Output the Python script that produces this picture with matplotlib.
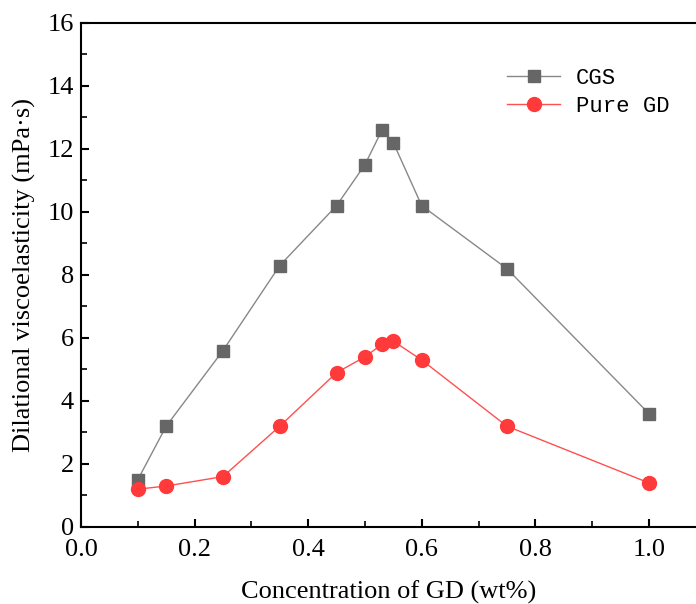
import numpy as np
import matplotlib.pyplot as plt
from matplotlib.ticker import MultipleLocator

# Concentration of GD (wt%)
conc = [0.10, 0.15, 0.25, 0.35, 0.45, 0.50, 0.53, 0.55, 0.60, 0.75, 1.00]
# dilational viscoelasticity (mPa·s)
cgs = [1.5, 3.2, 5.6, 8.3, 10.2, 11.5, 12.6, 12.2, 10.2, 8.2, 3.6]
pure_gd = [1.2, 1.3, 1.6, 3.2, 4.9, 5.4, 5.8, 5.9, 5.3, 3.2, 1.4]

plt.rcParams['font.family'] = 'Liberation Serif'

fig = plt.figure(figsize=(6.96, 6.04), dpi=100)
ax = fig.add_axes([0.1164, 0.1275, 0.8836, 0.8345])

ax.plot(conc, cgs, color='#888888', lw=1, marker='s', ms=9,
        mfc='#666666', mec='#666666', label='CGS')
ax.plot(conc, pure_gd, color='#ff5050', lw=1, marker='o', ms=10,
        mfc='#ff3a3a', mec='#ff3a3a', label='Pure GD')

ax.set_xlim(0, 1.083)
ax.set_ylim(0, 16)
ax.xaxis.set_major_locator(MultipleLocator(0.2))
ax.xaxis.set_minor_locator(MultipleLocator(0.1))
ax.yaxis.set_major_locator(MultipleLocator(2))
ax.yaxis.set_minor_locator(MultipleLocator(1))
ax.xaxis.set_major_formatter(plt.FormatStrFormatter('%.1f'))
ax.tick_params(which='both', direction='in', top=False, right=False, labelsize=19)
ax.tick_params(which='major', length=6, width=1.5)
ax.tick_params(which='minor', length=4, width=1.2)
ax.tick_params(axis='x', pad=9)
ax.tick_params(axis='y', pad=5)
for s in ax.spines.values():
    s.set_linewidth(1.5)
ax.spines['right'].set_visible(False)

ax.set_xlabel('Concentration of GD (wt%)', fontsize=19, labelpad=14)
ax.set_ylabel('Dilational viscoelasticity (mPa·s)', fontsize=19, labelpad=8)

ax.legend(loc='upper left', bbox_to_anchor=(0.66, 0.95), frameon=False,
          prop={'family': 'Liberation Mono', 'size': 16}, handlelength=2.4,
          labelspacing=0.3, handletextpad=0.7)

fig.savefig('out.png', dpi=100)
